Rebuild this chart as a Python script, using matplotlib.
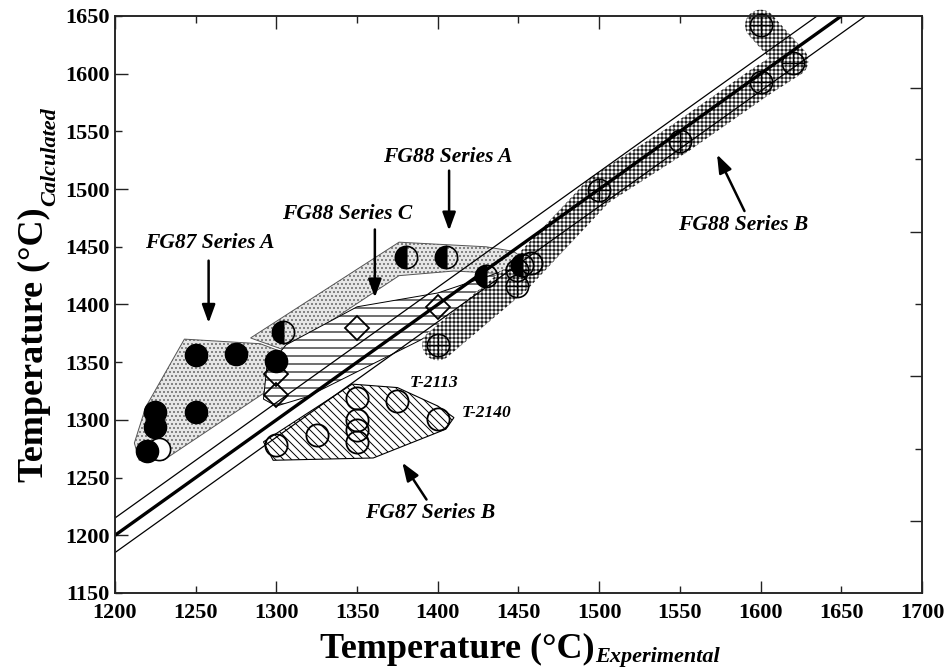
import numpy as np
import matplotlib
matplotlib.use('Agg')
import matplotlib.pyplot as plt
from matplotlib.patches import Polygon
from matplotlib.ticker import MultipleLocator, FixedLocator, NullFormatter, FuncFormatter

# ---------------- data ----------------
# FG87 Series A (filled circles)
fg87a_x = [1220, 1225, 1225, 1250, 1250, 1275, 1300]
fg87a_y = [1273, 1294, 1307, 1307, 1356, 1357, 1351]
# FG88 Series A (half-filled circles)
fg88a_x = [1304, 1380, 1405, 1430, 1452]
fg88a_y = [1376, 1441, 1441, 1425, 1434]
# FG88 Series C (open diamonds)
fg88c_x = [1300, 1300, 1350, 1400]
fg88c_y = [1340, 1322, 1380, 1398]
# FG87 Series B (open circles)
fg87b_x = [1300, 1325, 1350, 1350, 1350, 1350, 1375, 1400, 1458]
fg87b_y = [1278, 1287, 1319, 1300, 1291, 1281, 1316, 1301, 1436]
# white open circle behind the FG87A cluster
white_x = [1227]
white_y = [1275]
# FG88 Series B (crossed circles)
fg88b_x = [1400, 1449, 1449, 1500, 1550, 1600, 1620, 1600]
fg88b_y = [1365, 1430, 1416, 1499, 1542, 1593, 1609, 1642]

# shaded regions (outline vertices)
reg_fg87a_x = [1243, 1290, 1307, 1308, 1292, 1230, 1215, 1212, 1219]
reg_fg87a_y = [1370, 1366, 1357, 1343, 1323, 1265, 1265, 1280, 1311]
reg_fg88a_x = [1284, 1376, 1430, 1447, 1456, 1450, 1410, 1376, 1306]
reg_fg88a_y = [1371, 1454, 1450, 1446, 1437, 1426, 1429, 1425, 1360]
reg_fg88c_x = [1300, 1292, 1294, 1306, 1350, 1400, 1447, 1452, 1420, 1389, 1319]
reg_fg88c_y = [1312, 1318, 1345, 1365, 1398, 1410, 1432, 1420, 1395, 1369, 1320]
reg_fg87b_x = [1292, 1347, 1375, 1400, 1410, 1405, 1360, 1298]
reg_fg87b_y = [1281, 1331, 1328, 1312, 1302, 1292, 1267, 1265]
# FG88 Series B band centre line
band_fg88b_x = [1400, 1449, 1500, 1550, 1600, 1620, 1600]
band_fg88b_y = [1365, 1423, 1499, 1544, 1593, 1611, 1642]

# 1:1 line and +/- band
diag_x = [1200, 1650]
diag_off = 15

# annotations: label, text position, arrow tail, arrow tip
labels = ["FG87 Series A", "FG88 Series C", "FG88 Series A", "FG87 Series B", "FG88 Series B"]
label_xy = [(1259, 1453), (1344, 1478), (1406, 1528), (1395, 1219), (1589, 1469)]
arrow_tail = [(1258, 1438), (1361, 1465), (1407, 1516), (1393, 1231), (1590, 1481)]
arrow_tip = [(1258, 1384), (1361, 1406), (1407, 1464), (1378, 1263), (1573, 1530)]
small_labels = ["T-2113", "T-2140"]
small_xy = [(1398, 1332), (1430, 1306)]

xticks = np.arange(1200, 1701, 50)
yticks = np.arange(1150, 1651, 50)
right_major = [1212, 1338, 1463, 1588]
right_minor = [1275, 1400, 1526]

# ---------------- style ----------------
DPI = 96
K = 100.0 / DPI   # sizes below were tuned for 100 dpi

plt.rcParams['font.family'] = ['Liberation Serif', 'DejaVu Serif']

fig = plt.figure(figsize=(946 / DPI, 670 / DPI), dpi=DPI)
ax = fig.add_axes([0.12156, 0.11493, 0.85307, 0.86119])
ax.set_xlim(1200, 1700)
ax.set_ylim(1150, 1650)


def add_region(xs, ys, face, hatch, hcolor, hlw, ecolor, elw, z):
    verts = np.column_stack([xs, ys])
    with plt.rc_context({'hatch.linewidth': hlw * K}):
        p = Polygon(verts, closed=True, facecolor=face, edgecolor=hcolor,
                    hatch=hatch, linewidth=0, zorder=z)
    ax.add_patch(p)
    ax.add_patch(Polygon(verts, closed=True, facecolor='none', edgecolor=ecolor,
                         linewidth=elw * K, zorder=z + 0.01))


add_region(reg_fg87a_x, reg_fg87a_y, '#e6e6e6', '....', '#555555', 0.7, '#555555', 0.7, 1.0)
add_region(reg_fg88a_x, reg_fg88a_y, '#e6e6e6', '....', '#555555', 0.7, '#555555', 0.7, 1.0)
add_region(reg_fg88c_x, reg_fg88c_y, 'white', '--', 'black', 0.8, 'black', 0.7, 1.1)
add_region(reg_fg87b_x, reg_fg87b_y, 'white', '\\\\\\\\', 'black', 0.7, 'black', 0.8, 1.1)

# crosshatched band for FG88 Series B, built in pixel space from its centre line
fig.canvas.draw()
pts = ax.transData.transform(np.column_stack([band_fg88b_x, band_fg88b_y]))
inv = ax.transData.inverted()
r_px = 15.5
pieces = []
th = np.linspace(0, 2 * np.pi, 60)
for p in pts:
    c = np.column_stack([p[0] + r_px * np.cos(th), p[1] + r_px * np.sin(th)])
    pieces.append(inv.transform(c))
for p0, p1 in zip(pts[:-1], pts[1:]):
    d = p1 - p0
    n = np.array([-d[1], d[0]]) / np.hypot(d[0], d[1]) * r_px
    q = np.array([p0 + n, p1 + n, p1 - n, p0 - n])
    pieces.append(inv.transform(q))
with plt.rc_context({'hatch.linewidth': 0.75 * K}):
    for v in pieces:
        ax.add_patch(Polygon(v, closed=True, facecolor='white', edgecolor='#222222',
                             hatch='++++', linewidth=0, zorder=1.2, clip_on=False))

# 1:1 line and band
dx = np.array(diag_x, dtype=float)
span = dx[1] - dx[0]
ax.plot(dx, dx, color='black', lw=2.4 * K, zorder=2, solid_capstyle='butt')
ax.plot(dx[0] + np.array([0, span - diag_off]),
        dx[0] + diag_off + np.array([0, span - diag_off]), color='black', lw=0.9 * K, zorder=2)
ax.plot(dx[0] + np.array([0, span + diag_off]),
        dx[0] - diag_off + np.array([0, span + diag_off]), color='black', lw=0.9 * K, zorder=2)

ms = 16 * K
ax.plot(white_x, white_y, 'o', ms=ms, mfc='white', mec='black', mew=1.2 * K, zorder=3)
ax.plot(fg87a_x, fg87a_y, 'o', ms=ms, mfc='black', mec='black', mew=1.0 * K, zorder=3.1)
ax.plot(fg87b_x, fg87b_y, 'o', ms=ms, mfc='none', mec='black', mew=1.3 * K, zorder=3)
ax.plot(fg88c_x, fg88c_y, 'D', ms=12 * K, mfc='none', mec='black', mew=1.3 * K, zorder=3)
ax.plot(fg88b_x, fg88b_y, 'o', ms=ms, mfc='none', mec='black', mew=1.2 * K, zorder=3, clip_on=False)
ax.plot(fg88b_x, fg88b_y, '+', ms=ms, mec='black', mew=1.0 * K, zorder=3, clip_on=False)
ax.plot(fg88a_x, fg88a_y, 'o', ms=ms, fillstyle='left', mfc='black', mfcalt='none',
        mec='black', mew=1.2 * K, zorder=3.2)

for lab, xy, tail, tip in zip(labels, label_xy, arrow_tail, arrow_tip):
    ax.text(xy[0], xy[1], lab, ha='center', va='center', fontsize=15.5 * K,
            fontweight='bold', fontstyle='italic', zorder=4)
    ax.annotate('', xy=tip, xytext=tail,
                arrowprops=dict(arrowstyle='-|>,head_length=0.55,head_width=0.2',
                                color='black', lw=1.8 * K, mutation_scale=20 * K,
                                shrinkA=0, shrinkB=0), zorder=4)
for lab, xy in zip(small_labels, small_xy):
    ax.text(xy[0], xy[1], lab, ha='center', va='center', fontsize=12.5 * K,
            fontweight='bold', fontstyle='italic', zorder=4)

# axes / ticks
ax.xaxis.set_major_locator(MultipleLocator(100))
ax.xaxis.set_minor_locator(FixedLocator([t for t in xticks if t % 100 != 0]))
ax.yaxis.set_major_locator(FixedLocator([t for t in yticks if t % 100 == 0]))
ax.yaxis.set_minor_locator(FixedLocator([t for t in yticks if t % 100 != 0]))
fmt = FuncFormatter(lambda v, p: '%d' % v)
for a in (ax.xaxis, ax.yaxis):
    a.set_major_formatter(fmt)
    a.set_minor_formatter(fmt)
ax.tick_params(which='both', direction='in', labelsize=16 * K, top=True, right=False,
               width=1.0 * K, color='#222222')
ax.tick_params(which='major', length=9 * K)
ax.tick_params(which='minor', length=5 * K)
ax.tick_params(axis='x', which='both', pad=7 * K)
ax.tick_params(axis='y', which='both', pad=4 * K)
for lab in ax.get_xticklabels(which='both') + ax.get_yticklabels(which='both'):
    lab.set_fontweight('bold')

ax2 = ax.twinx()
ax2.set_ylim(1150, 1650)
ax2.yaxis.set_major_locator(FixedLocator(right_major))
ax2.yaxis.set_minor_locator(FixedLocator(right_minor))
ax2.yaxis.set_major_formatter(NullFormatter())
ax2.yaxis.set_minor_formatter(NullFormatter())
ax2.tick_params(which='both', direction='in', width=1.0 * K, color='#222222')
ax2.tick_params(which='major', length=9 * K)
ax2.tick_params(which='minor', length=5 * K)

for a in (ax, ax2):
    for s in a.spines.values():
        s.set_linewidth(1.1 * K)
        s.set_color('#222222')

# axis titles: main text plus lowered italic subscript, placed in pixels
W, H = 946.0, 670.0
r = fig.canvas.get_renderer()
tx = fig.text(320 / W, 1 - 658 / H, 'Temperature (°C)', fontsize=26 * K, fontweight='bold',
              ha='left', va='baseline')
wx = tx.get_window_extent(r).width
fig.text((320 + wx + 1) / W, 1 - 662 / H, 'Experimental', fontsize=16 * K,
         fontweight='bold', fontstyle='italic', ha='left', va='baseline')

ty = fig.text(43 / W, 1 - 482 / H, 'Temperature (°C)', fontsize=26 * K, fontweight='bold',
              rotation=90, rotation_mode='anchor', ha='left', va='baseline')
hy = ty.get_window_extent(r).height
fig.text(55 / W, 1 - (482 - hy - 1) / H, 'Calculated', fontsize=16 * K,
         fontweight='bold', fontstyle='italic', rotation=90, rotation_mode='anchor',
         ha='left', va='baseline')

fig.savefig('out.png', dpi=DPI)
